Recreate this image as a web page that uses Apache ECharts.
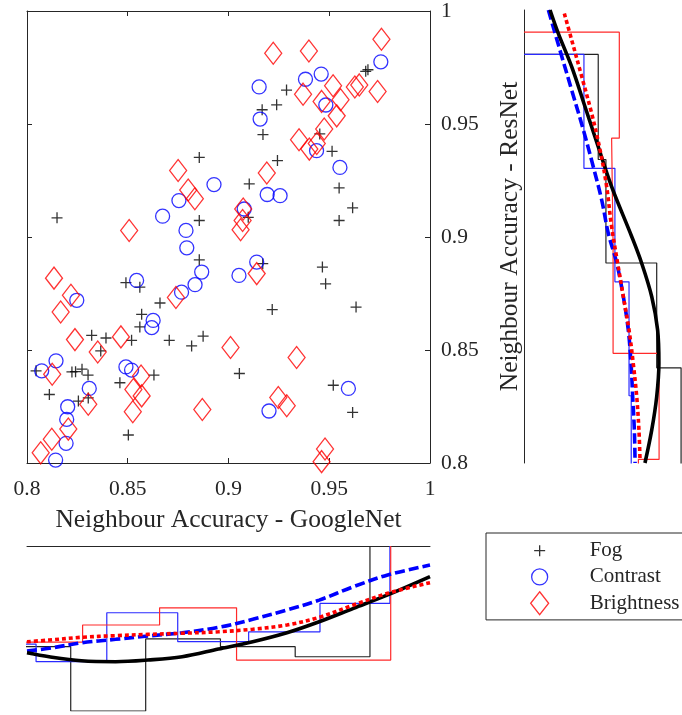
<!DOCTYPE html>
<html>
<head>
<meta charset="utf-8">
<script src="https://cdn.jsdelivr.net/npm/echarts@6/dist/echarts.min.js"></script>
<style>
  html, body { margin: 0; padding: 0; background: #fff; }
  #chart { width: 682px; height: 715px; }
</style>
</head>
<body>
<div id="chart"></div>
<script>
// Neighbour accuracy, GoogleNet (x) vs ResNet (y), per perturbation type
const fogX = [0.8855, 0.8855, 0.8149, 0.9681, 0.9692, 0.9288, 0.9239, 0.9167, 0.9171, 0.9453,
  0.9514, 0.9243, 0.9103, 0.9549, 0.9616, 0.9549, 0.9098, 0.8855, 0.8491, 0.8560,
  0.8660, 0.8569, 0.8560, 0.8321, 0.8392, 0.8519, 0.8706, 0.8817, 0.8874, 0.8366,
  0.8045, 0.8223, 0.8241, 0.8273, 0.8303, 0.8630, 0.8461, 0.8111, 0.8255, 0.8304,
  0.8503, 0.9170, 0.9466, 0.9482, 0.9217, 0.9633, 0.9054, 0.9520, 0.9616];
const fogY = [0.9352, 0.9073, 0.9085, 0.9733, 0.9740, 0.9650, 0.9585, 0.9563, 0.9453, 0.9456,
  0.9379, 0.9338, 0.9235, 0.9217, 0.9129, 0.9073, 0.9087, 0.8899, 0.8798, 0.8778,
  0.8708, 0.8658, 0.8602, 0.8565, 0.8553, 0.8543, 0.8543, 0.8518, 0.8561, 0.8496,
  0.8408, 0.8403, 0.8404, 0.8415, 0.8389, 0.8389, 0.8355, 0.8303, 0.8274, 0.8288,
  0.8124, 0.8882, 0.8867, 0.8793, 0.8679, 0.8690, 0.8396, 0.8344, 0.8224];

const contrastX = [0.8928, 0.8754, 0.8673, 0.8789, 0.9756, 0.9382, 0.9460, 0.9152, 0.9157, 0.9483,
  0.9437, 0.9553, 0.9192, 0.9256, 0.9078, 0.8793, 0.8867, 0.8834, 0.8767, 0.8247,
  0.8544, 0.8626, 0.8619, 0.8144, 0.8073, 0.8491, 0.8519, 0.8309, 0.8202, 0.8197,
  0.8194, 0.8142, 0.9140, 0.9052, 0.9595, 0.9201];
const contrastY = [0.9232, 0.9161, 0.9092, 0.9029, 0.9775, 0.9698, 0.9721, 0.9664, 0.9522, 0.9584,
  0.9382, 0.9308, 0.9188, 0.9183, 0.9124, 0.8952, 0.8845, 0.8789, 0.8756, 0.8720,
  0.8808, 0.8631, 0.8599, 0.8452, 0.8408, 0.8425, 0.8411, 0.8330, 0.8249, 0.8193,
  0.8087, 0.8013, 0.8889, 0.8830, 0.8330, 0.8230];

const brightX = [0.8750, 0.8800, 0.8833, 0.8507, 0.9759, 0.9222, 0.9399, 0.9370, 0.9519, 0.9462,
  0.9556, 0.9627, 0.9649, 0.9740, 0.9537, 0.9475, 0.9350, 0.9401, 0.9438, 0.9190,
  0.9073, 0.9070, 0.9060, 0.8739, 0.8134, 0.8218, 0.8167, 0.8238, 0.8466, 0.9010,
  0.8351, 0.8125, 0.8566, 0.8528, 0.8569, 0.8525, 0.8304, 0.8205, 0.8123, 0.8068,
  0.8870, 0.9140, 0.9338, 0.9247, 0.9289, 0.9479, 0.9462];
const brightY = [0.9294, 0.9208, 0.9169, 0.9029, 0.9875, 0.9813, 0.9823, 0.9632, 0.9669, 0.9600,
  0.9607, 0.9664, 0.9673, 0.9644, 0.9536, 0.9478, 0.9430, 0.9389, 0.9414, 0.9283,
  0.9124, 0.9073, 0.9032, 0.8732, 0.8818, 0.8742, 0.8668, 0.8546, 0.8558, 0.8511,
  0.8491, 0.8393, 0.8385, 0.8325, 0.8297, 0.8227, 0.8260, 0.8150, 0.8105, 0.8045,
  0.8237, 0.8838, 0.8467, 0.8290, 0.8253, 0.8062, 0.8006];

// Histogram outlines (bin edges and densities) for the GoogleNet marginal
const fogEdgesX = [0.7846, 0.8217, 0.8589, 0.8960, 0.9331, 0.9702];
const fogDensX = [5.49, 9.00, 5.07, 5.49, 6.04];
const contrastEdgesX = [0.7693, 0.8045, 0.8396, 0.8748, 0.9100, 0.9454, 0.9801];
const contrastDensX = [5.35, 6.31, 3.64, 5.22, 4.68, 3.13];
const brightEdgesX = [0.7894, 0.8276, 0.8658, 0.9040, 0.9423, 0.9805];
const brightDensX = [5.24, 4.31, 3.37, 6.22, 6.22];

// Histogram outlines for the ResNet marginal
const fogEdgesY = [0.7958, 0.8420, 0.8883, 0.9340, 0.9804];
const fogDensY = [8.57, 7.24, 4.47, 4.05];
const contrastEdgesY = [0.7794, 0.8297, 0.8800, 0.9301, 0.9804];
const contrastDensY = [5.85, 5.73, 4.96, 3.27];
const brightEdgesY = [0.7544, 0.8016, 0.8484, 0.8962, 0.9434, 0.9902];
const brightDensY = [6.24, 7.37, 4.86, 4.78, 5.20];

// Fitted densities along GoogleNet accuracy
const pdfAtX = [0.800, 0.811, 0.827, 0.844, 0.860, 0.877, 0.895, 0.912, 0.929, 0.945, 0.962, 0.979, 1.000];
const fogPdfX = [5.82, 6.04, 6.26, 6.31, 6.22, 6.04, 5.62, 5.22, 4.73, 4.13, 3.40, 2.67, 1.67];
const contrastPdfX = [5.73, 5.58, 5.28, 5.09, 4.91, 4.73, 4.44, 4.00, 3.49, 2.95, 2.22, 1.58, 1.04];
const brightPdfX = [5.22, 5.13, 4.98, 4.89, 4.82, 4.76, 4.68, 4.54, 4.31, 3.89, 3.22, 2.58, 2.00];

// Fitted densities along ResNet accuracy
const fogPdfAtY = [1.000, 0.9897, 0.9750, 0.9573, 0.9396, 0.9220, 0.8999, 0.8882, 0.8734, 0.8587, 0.8440, 0.8293, 0.8146, 0.8000];
const fogPdfY = [1.42, 1.87, 2.60, 3.33, 4.05, 4.78, 5.88, 6.42, 6.97, 7.29, 7.36, 7.24, 6.97, 6.60];
const contrastPdfAtY = [1.000, 0.9823, 0.9647, 0.9470, 0.9308, 0.9161, 0.9014, 0.8882, 0.8734, 0.8587, 0.8440, 0.8293, 0.8146, 0.8000];
const contrastPdfY = [1.33, 1.96, 2.60, 3.24, 3.78, 4.24, 4.60, 5.06, 5.42, 5.69, 5.84, 5.93, 6.02, 6.06];
const brightPdfAtY = [0.9985, 0.9868, 0.9706, 0.9544, 0.9382, 0.9220, 0.9043, 0.8882, 0.8734, 0.8587, 0.8440, 0.8293, 0.8146, 0.8013];
const brightPdfY = [2.20, 2.60, 3.15, 3.69, 4.15, 4.51, 4.78, 5.11, 5.42, 5.73, 5.96, 6.15, 6.27, 6.33];

const accTicks = { min: 0.8, max: 1, interval: 0.05 };

const FONT = "'Liberation Serif', 'Times New Roman', serif";
const AXIS_COLOR = '#262626';
const BLACK = '#000000', BLUE = '#0000ff', RED = '#ff0000';

const zip = (a, b) => a.map((v, i) => [v, b[i]]);

// Step outline of a histogram with the value along x and the density along y
function stairsAlongX(edges, dens) {
  const pts = [[edges[0], 0]];
  dens.forEach((d, i) => { pts.push([edges[i], d]); pts.push([edges[i + 1], d]); });
  pts.push([edges[edges.length - 1], 0]);
  return pts;
}
// Same outline with the value along y and the density along x
function stairsAlongY(edges, dens) {
  return stairsAlongX(edges, dens).map(p => [p[1], p[0]]);
}

const chart = echarts.init(document.getElementById('chart'), null, { renderer: 'canvas' });

const boxLine = { show: true, onZero: false, lineStyle: { color: AXIS_COLOR, width: 1 } };
const inTick = { show: true, inside: true, length: 5, lineStyle: { color: AXIS_COLOR, width: 1 } };
const tickFont = { fontFamily: FONT, fontSize: 21.5, color: AXIS_COLOR };
const titleFont = { fontFamily: FONT, fontSize: 25.5, color: AXIS_COLOR };

function stairsSeries(data, color, xi, yi) {
  return {
    type: 'line', data, xAxisIndex: xi, yAxisIndex: yi, showSymbol: false, symbol: 'none',
    clip: true, silent: true, lineStyle: { color, width: 1.2 }, z: 2
  };
}
function pdfSeries(data, color, dash, xi, yi) {
  return {
    type: 'line', data, xAxisIndex: xi, yAxisIndex: yi, showSymbol: false, symbol: 'none',
    smooth: 0.35, clip: true, silent: true,
    lineStyle: { color, width: 3.6, type: dash, cap: 'butt' }, z: 3
  };
}

const scatterBase = { type: 'scatter', xAxisIndex: 0, yAxisIndex: 0, silent: true, clip: false, z: 4 };

const option = {
  backgroundColor: '#ffffff',
  animation: false,
  grid: [
    { left: 27, top: 10, width: 403, height: 453 },
    { left: 524, top: 10, width: 158, height: 453 },
    { left: 27, top: 546, width: 403, height: 165 }
  ],
  xAxis: [
    {
      type: 'value', gridIndex: 0, position: 'bottom', ...accTicks,
      axisLine: boxLine, axisTick: inTick, splitLine: { show: false },
      axisLabel: { ...tickFont, margin: 15 },
      name: 'Neighbour Accuracy - GoogleNet', nameLocation: 'middle', nameGap: 44,
      nameTextStyle: titleFont
    },
    {
      type: 'value', gridIndex: 0, position: 'top', ...accTicks,
      axisLine: boxLine, axisTick: inTick, splitLine: { show: false }, axisLabel: { show: false }
    },
    { type: 'value', gridIndex: 1, min: 0, max: 8.62, show: false },
    {
      type: 'value', gridIndex: 2, position: 'top', min: 0.8, max: 1,
      axisLine: boxLine, axisTick: { show: false }, axisLabel: { show: false }, splitLine: { show: false }
    }
  ],
  yAxis: [
    {
      type: 'value', gridIndex: 0, position: 'left', ...accTicks,
      axisLine: boxLine, axisTick: inTick, splitLine: { show: false }, axisLabel: { show: false }
    },
    {
      type: 'value', gridIndex: 0, position: 'right', ...accTicks,
      axisLine: boxLine, axisTick: inTick, splitLine: { show: false },
      axisLabel: { ...tickFont, margin: 11 }
    },
    {
      type: 'value', gridIndex: 1, position: 'left', min: 0.8, max: 1,
      axisLine: boxLine, axisTick: { show: false }, axisLabel: { show: false }, splitLine: { show: false },
      name: 'Neighbour Accuracy - ResNet', nameLocation: 'middle', nameGap: 1,
      nameTextStyle: titleFont
    },
    { type: 'value', gridIndex: 2, min: 0, max: 9, inverse: true, show: false }
  ],
  legend: {
    left: 486, top: 533, orient: 'vertical',
    padding: [5, 4, 4, 8],
    itemWidth: 90, itemHeight: 24, itemGap: 1,
    borderColor: AXIS_COLOR, borderWidth: 1, backgroundColor: '#ffffff',
    selectedMode: false,
    textStyle: { fontFamily: FONT, fontSize: 21, color: AXIS_COLOR },
    itemStyle: { borderWidth: 1.3 },
    data: [
      { name: 'Fog', icon: 'path://M0,0M90,24M39.5,12H50.5M45,6.5V17.5' },
      { name: 'Contrast', icon: 'path://M0,0M90,24M53,12A8,8,0,1,1,37,12A8,8,0,1,1,53,12Z' },
      { name: 'Brightness', icon: 'path://M0,0M90,24M45,0.5L54,12L45,23.5L36,12Z' }
    ]
  },
  series: [
    {
      ...scatterBase, name: 'Fog', data: zip(fogX, fogY),
      symbol: 'path://M0,5.5H11M5.5,0V11', symbolSize: 11,
      itemStyle: { color: 'rgba(0,0,0,0)', borderColor: BLACK, borderWidth: 1.3 }
    },
    {
      ...scatterBase, name: 'Contrast', data: zip(contrastX, contrastY),
      symbol: 'circle', symbolSize: 14,
      itemStyle: { color: 'rgba(0,0,0,0)', borderColor: BLUE, borderWidth: 1.3 }
    },
    {
      ...scatterBase, name: 'Brightness', data: zip(brightX, brightY),
      symbol: 'diamond', symbolSize: [17, 22],
      itemStyle: { color: 'rgba(0,0,0,0)', borderColor: RED, borderWidth: 1.3 }
    },

    // ResNet marginal: histograms then fitted densities
    stairsSeries(stairsAlongY(fogEdgesY, fogDensY), '#222222', 2, 2),
    stairsSeries(stairsAlongY(contrastEdgesY, contrastDensY), '#2a2aff', 2, 2),
    stairsSeries(stairsAlongY(brightEdgesY, brightDensY), '#ff2a2a', 2, 2),
    pdfSeries(zip(contrastPdfY, contrastPdfAtY), BLUE, [10, 4], 2, 2),
    pdfSeries(zip(fogPdfY, fogPdfAtY), BLACK, 'solid', 2, 2),
    pdfSeries(zip(brightPdfY, brightPdfAtY), RED, [4, 3], 2, 2),

    // GoogleNet marginal: histograms then fitted densities
    stairsSeries(stairsAlongX(fogEdgesX, fogDensX), '#222222', 3, 3),
    stairsSeries(stairsAlongX(contrastEdgesX, contrastDensX), '#2a2aff', 3, 3),
    stairsSeries(stairsAlongX(brightEdgesX, brightDensX), '#ff2a2a', 3, 3),
    pdfSeries(zip(pdfAtX, contrastPdfX), BLUE, [10, 4], 3, 3),
    pdfSeries(zip(pdfAtX, fogPdfX), BLACK, 'solid', 3, 3),
    pdfSeries(zip(pdfAtX, brightPdfX), RED, [4, 3], 3, 3)
  ]
};

chart.setOption(option);
</script>
</body>
</html>
